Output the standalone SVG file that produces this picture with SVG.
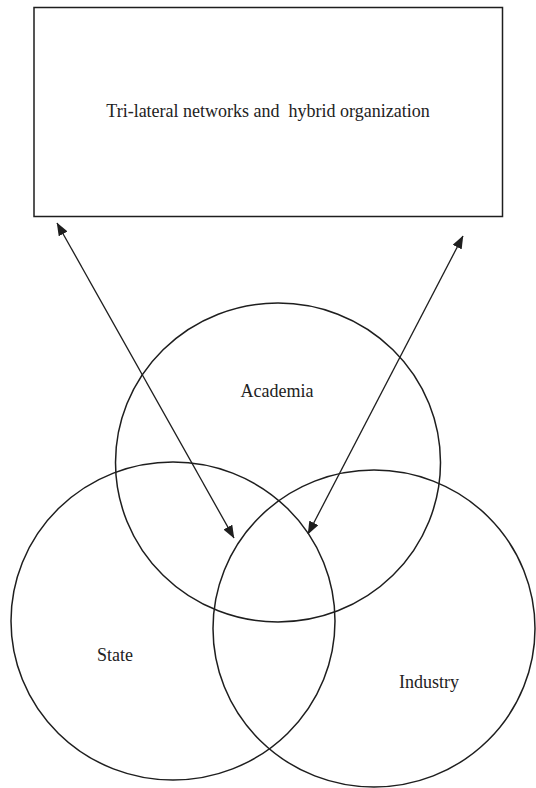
<svg xmlns="http://www.w3.org/2000/svg" width="536" height="788" viewBox="0 0 536 788">
<style>
.shape{fill:none;stroke:#1e1e1e;stroke-width:1.5}
.conn{fill:none;stroke:#1e1e1e;stroke-width:1.3}
.lbl{font-family:"Liberation Serif","Times New Roman",serif;font-size:18px;fill:#222;text-anchor:middle}
</style>
<defs>
<marker id="ah" viewBox="0 0 13 10" refX="12.5" refY="5" markerWidth="13" markerHeight="10" markerUnits="userSpaceOnUse" orient="auto-start-reverse">
<path d="M0,0 L13,5 L0,10 z" fill="#1e1e1e"/>
</marker>
</defs>
<rect width="536" height="788" fill="#fff"/>
<g id="box">
<rect class="shape" x="34" y="7.5" width="468.5" height="209"/>
<text class="lbl" x="268" y="117" xml:space="preserve">Tri-lateral networks and  hybrid organization</text>
</g>
<g id="academia">
<ellipse class="shape" cx="278" cy="462.5" rx="162.5" ry="159.5"/>
<text class="lbl" x="277" y="397">Academia</text>
</g>
<g id="state">
<ellipse class="shape" cx="173" cy="621" rx="162" ry="159"/>
<text class="lbl" x="115" y="661">State</text>
</g>
<g id="industry">
<ellipse class="shape" cx="374" cy="628.5" rx="161" ry="158.5"/>
<text class="lbl" x="429" y="688">Industry</text>
</g>
<g id="connectors">
<line class="conn" x1="57" y1="223" x2="234" y2="538" marker-start="url(#ah)" marker-end="url(#ah)"/>
<line class="conn" x1="463" y1="236" x2="308" y2="534" marker-start="url(#ah)" marker-end="url(#ah)"/>
</g>
</svg>
